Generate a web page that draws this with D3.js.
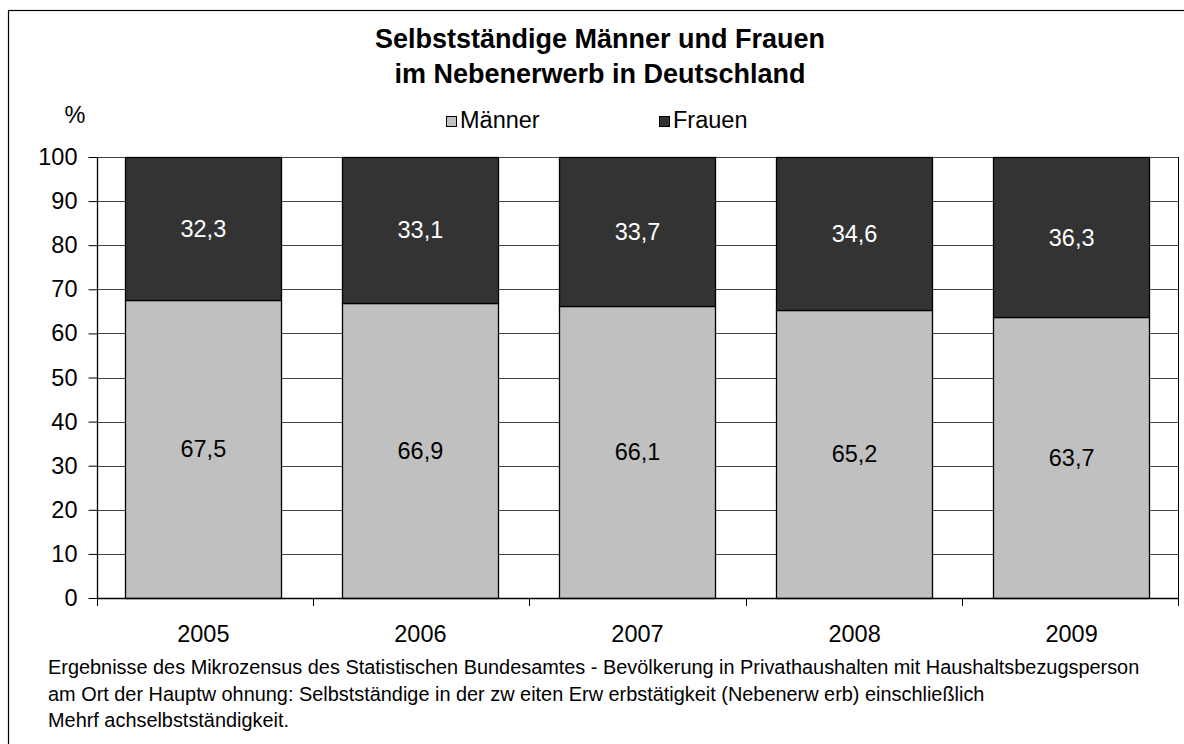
<!DOCTYPE html>
<html><head><meta charset="utf-8">
<script src="https://cdn.jsdelivr.net/npm/d3@7/dist/d3.min.js"></script>
<style>
body{margin:0;background:#fff;}
svg{display:block;font-family:"Liberation Sans",Arial,sans-serif;}
</style></head><body>
<svg id="c" width="1184" height="744"></svg>
<script>
const years = ["2005","2006","2007","2008","2009"];
const maenner = [67.5, 66.9, 66.1, 65.2, 63.7];
const frauen = [32.3, 33.1, 33.7, 34.6, 36.3];
const seriesNames = ["Männer","Frauen"];
const seriesColors = ["#C0C0C0","#333333"];
const labelColors = ["#000000","#ffffff"];
const yTicks = [0,10,20,30,40,50,60,70,80,90,100];
const titleLines = ["Selbstständige Männer und Frauen","im Nebenerwerb in Deutschland"];
const footLines = [
 "Ergebnisse des Mikrozensus des Statistischen Bundesamtes - Bevölkerung in Privathaushalten mit Haushaltsbezugsperson",
 "am Ort der Hauptw ohnung: Selbstständige in der zw eiten Erw erbstätigkeit (Nebenerw erb) einschließlich",
 "Mehrf achselbstständigkeit."
];

const svg = d3.select("#c");
const L=97, R=1178, T=157, B=598;
const FS = 23.5;

svg.append("rect").attr("x",8.5).attr("y",10.5).attr("width",1200).attr("height",800)
  .attr("fill","#fff").attr("stroke","#000").attr("stroke-width",1.2);

const table = years.map((y,i)=>({year:y, "Männer":maenner[i], "Frauen":frauen[i]}));
const stack = d3.stack().keys(seriesNames).offset(d3.stackOffsetExpand)(table);

const x = d3.scaleBand().domain(years).range([L,R]).paddingInner(0.28).paddingOuter(0.13);
const y = d3.scaleLinear().domain([0,100]).range([B,T]);

// gridlines
svg.append("g").selectAll("line").data(yTicks).join("line")
  .attr("x1",L).attr("x2",R).attr("y1",d=>Math.round(y(d))+0.5).attr("y2",d=>Math.round(y(d))+0.5)
  .attr("stroke","#444").attr("stroke-width",1);
svg.append("line").attr("x1",R+0.5).attr("x2",R+0.5).attr("y1",T).attr("y2",B).attr("stroke","#000");

// bars
const g = svg.append("g");
stack.forEach((s,si)=>{
  g.append("g").selectAll("rect").data(s).join("rect")
    .attr("x",d=>Math.round(x(d.data.year))+0.5)
    .attr("width",Math.round(x.bandwidth()))
    .attr("y",d=>Math.round(y(d[1]*100))+0.5)
    .attr("height",d=>Math.round(y(d[0]*100))-Math.round(y(d[1]*100)))
    .attr("fill",seriesColors[si]).attr("stroke","#000").attr("stroke-width",1.3);
  g.append("g").selectAll("text").data(s).join("text")
    .attr("x",d=>x(d.data.year)+x.bandwidth()/2)
    .attr("y",d=>y((d[0]+d[1])/2*100))
    .attr("dy","0.36em").attr("text-anchor","middle")
    .attr("font-size",FS).attr("fill",labelColors[si])
    .text(d=>String(d.data[seriesNames[si]]).replace(".",","));
});

// y axis
const yAxis = d3.axisLeft(y).tickValues(yTicks).tickSize(9).tickPadding(11).tickFormat(d3.format("d"));
const ya = svg.append("g").attr("transform",`translate(${L+0.5},0)`).call(yAxis);
ya.select(".domain").attr("stroke","#000").attr("stroke-width",1.3).attr("d",`M0,${T}V${B}`);
ya.selectAll(".tick line").attr("stroke","#000");
ya.selectAll(".tick text").attr("font-size",FS).attr("fill","#000").attr("font-family","Liberation Sans, Arial, sans-serif");

// x axis
const xb = d3.scaleLinear().domain([0,years.length]).range([L,R]);
const xa = svg.append("g");
xa.append("line").attr("x1",L).attr("x2",R+1).attr("y1",B+0.5).attr("y2",B+0.5).attr("stroke","#000").attr("stroke-width",1.5);
xa.selectAll("line.t").data(d3.range(years.length+1)).join("line").attr("class","t")
  .attr("x1",d=>Math.round(xb(d))+0.5).attr("x2",d=>Math.round(xb(d))+0.5)
  .attr("y1",B).attr("y2",B+8).attr("stroke","#000");
xa.selectAll("text").data(years).join("text")
  .attr("x",d=>x(d)+x.bandwidth()/2).attr("y",634).attr("dy","0.36em")
  .attr("text-anchor","middle").attr("font-size",FS).text(d=>d);

// title
svg.append("g").selectAll("text").data(titleLines).join("text")
  .attr("x",600).attr("y",(d,i)=>48+i*35).attr("text-anchor","middle")
  .attr("font-size",27).attr("font-weight","bold").text(d=>d);

// % label
svg.append("text").attr("x",75).attr("y",115).attr("dy","0.36em").attr("text-anchor","middle")
  .attr("font-size",FS).text("%");

// legend
const legX = [446, 659];
const lg = svg.append("g");
seriesNames.forEach((n,i)=>{
  lg.append("rect").attr("x",legX[i]+0.5).attr("y",116.5).attr("width",10).attr("height",10)
    .attr("fill",seriesColors[i]).attr("stroke","#000");
  lg.append("text").attr("x",legX[i]+14).attr("y",120).attr("dy","0.36em").attr("font-size",FS).text(n);
});

// footnote
svg.append("g").selectAll("text").data(footLines).join("text")
  .attr("x",48).attr("y",(d,i)=>674+i*26.5).attr("font-size",19.9).text(d=>d);
</script>
</body></html>
